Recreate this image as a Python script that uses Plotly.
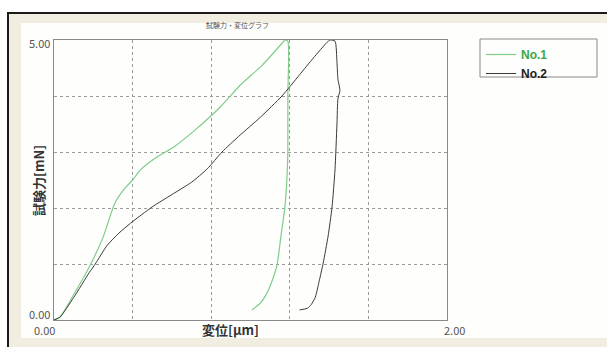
import plotly.graph_objects as go

W, H = 607, 347

# Series No.1 (green): loading then unloading
no1_x = [0.0, 0.03, 0.10, 0.18, 0.25, 0.31, 0.36, 0.40, 0.44, 0.52, 0.61, 0.72, 0.845, 0.95, 1.06, 1.165,
         1.175, 1.19, 1.19, 1.19, 1.185, 1.175, 1.155, 1.135, 1.11, 1.084, 1.05, 1.008]
no1_y = [0.0, 0.05, 0.45, 0.95, 1.48, 2.09, 2.35, 2.50, 2.68, 2.90, 3.09, 3.40, 3.80, 4.20, 4.55, 4.96,
         5.0, 4.98, 4.00, 3.00, 2.50, 2.02, 1.50, 0.98, 0.70, 0.48, 0.30, 0.18]

# Series No.2 (dark)
no2_x = [0.0, 0.03, 0.10, 0.18, 0.21, 0.27, 0.33, 0.39, 0.50, 0.60, 0.70, 0.78, 0.855, 0.94, 1.05, 1.16,
         1.25, 1.32, 1.39,
         1.405, 1.43, 1.44, 1.445, 1.455, 1.445, 1.44, 1.43, 1.415, 1.395, 1.37, 1.35, 1.33, 1.31, 1.29, 1.25]
no2_y = [0.0, 0.05, 0.40, 0.85, 1.00, 1.33, 1.55, 1.73, 2.02, 2.24, 2.46, 2.70, 3.00, 3.28, 3.62, 4.00,
         4.38, 4.68, 4.96,
         5.0, 4.98, 4.60, 4.30, 4.10, 3.95, 3.50, 2.68, 2.02, 1.50, 1.02, 0.70, 0.41, 0.28, 0.21, 0.18]

x_ticks = [0.0, 2.0]
x_tick_text = ["0.00", "2.00"]
y_ticks = [0.0, 5.0]
y_tick_text = ["0.00", "5.00"]

title_text = "試験力・変位グラフ"
x_title = "変位[μm]"
y_title = "試験力[mN]"
names = ["No.1", "No.2"]
colors = ["#7fcc89", "#3a3a3a"]
legend_text_colors = ["#3aa845", "#222222"]

def px(x):
    return x / W

def py(y):
    return 1 - y / H

PL, PR, PT, PB = 54, 447, 40, 320

fig = go.Figure()
for xs, ys, nm, c, tc, w in [(no1_x, no1_y, names[0], colors[0], legend_text_colors[0], 1.2),
                             (no2_x, no2_y, names[1], colors[1], legend_text_colors[1], 1.0)]:
    fig.add_trace(go.Scatter(x=xs, y=ys, mode="lines",
                             name=f"<span style='color:{tc}'><b>{nm}</b></span>",
                             line=dict(color=c, width=w, shape="spline", smoothing=0.6)))

shapes = [
    # window frame
    dict(type="rect", xref="paper", yref="paper", x0=px(8), x1=px(640), y0=py(13), y1=py(380),
         line=dict(color="#1a1a1a", width=2), fillcolor="#f1ede1", layer="below"),
    dict(type="rect", xref="paper", yref="paper", x0=px(21), x1=px(640), y0=py(23), y1=py(338),
         line=dict(width=0), fillcolor="#fefefc", layer="below"),
    # legend box
    dict(type="rect", xref="paper", yref="paper", x0=px(480), x1=px(597), y0=py(39), y1=py(77),
         line=dict(color="#8a8a8a", width=1), fillcolor="rgba(0,0,0,0)"),
]

ann = [
    dict(text=title_text, x=px(237), y=py(25), xref="paper", yref="paper", showarrow=False,
         xanchor="center", yanchor="middle", font=dict(size=7, color="#555")),
    dict(text=f"<b>{x_title}</b>", x=px(230), y=py(329), xref="paper", yref="paper", showarrow=False,
         xanchor="center", yanchor="middle", font=dict(size=13, color="#333")),
    dict(text=f"<b>{y_title}</b>", x=px(38), y=py(181), xref="paper", yref="paper", showarrow=False,
         xanchor="center", yanchor="middle", textangle=-90, font=dict(size=13, color="#333")),
]
# tick labels
ann.append(dict(text=x_tick_text[0], x=x_ticks[0], y=py(330), xref="x", yref="paper", showarrow=False,
                xanchor="right", yanchor="middle", xshift=3, font=dict(size=11, color="#555")))
ann.append(dict(text=x_tick_text[1], x=x_ticks[1], y=py(330), xref="x", yref="paper", showarrow=False,
                xanchor="left", yanchor="middle", xshift=-5, font=dict(size=11, color="#555")))
ann.append(dict(text=y_tick_text[0], x=px(52), y=y_ticks[0], xref="paper", yref="y", showarrow=False,
                xanchor="right", yanchor="middle", yshift=6, font=dict(size=11, color="#555")))
ann.append(dict(text=y_tick_text[1], x=px(52), y=y_ticks[1], xref="paper", yref="y", showarrow=False,
                xanchor="right", yanchor="middle", yshift=-3, font=dict(size=11, color="#555")))

fig.update_layout(
    width=W, height=H, margin=dict(l=0, r=0, t=0, b=0),
    paper_bgcolor="white", plot_bgcolor="white",
    font=dict(family="Noto Sans CJK JP, Liberation Sans, sans-serif"),
    shapes=shapes, annotations=ann,
    showlegend=True,
    legend=dict(x=px(481), y=py(40), xanchor="left", yanchor="top", bgcolor="rgba(0,0,0,0)",
                borderwidth=0, font=dict(size=12, family="Liberation Sans, sans-serif"),
                tracegroupgap=0, itemwidth=30),
    xaxis=dict(domain=[px(PL), px(PR)], range=[0, 2], dtick=0.4, tick0=0,
               showgrid=True, gridcolor="#9a9a9a", griddash="dot", gridwidth=1,
               showline=True, linecolor="#8a8a8a", linewidth=1, mirror=True,
               showticklabels=False, ticks="", zeroline=False),
    yaxis=dict(domain=[py(PB), py(PT)], range=[0, 5], dtick=1, tick0=0,
               showgrid=True, gridcolor="#9a9a9a", griddash="dot", gridwidth=1,
               showline=True, linecolor="#8a8a8a", linewidth=1, mirror=True,
               showticklabels=False, ticks="", zeroline=False),
)

fig.write_html("out.html", config={"displayModeBar": False},
               post_script="document.body.style.margin='0';document.body.style.overflow='hidden';")
